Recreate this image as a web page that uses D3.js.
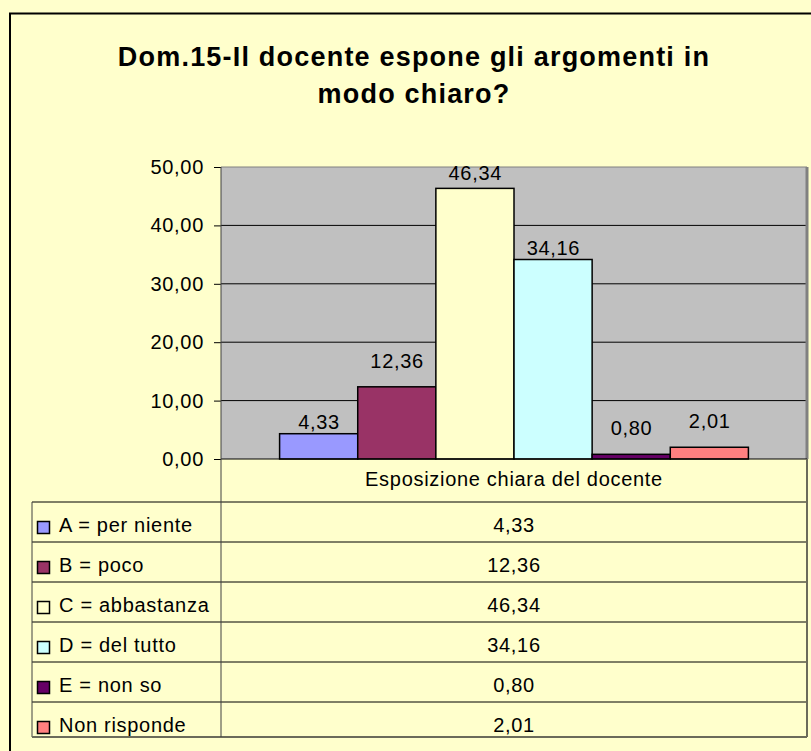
<!DOCTYPE html>
<html>
<head>
<meta charset="utf-8">
<script src="https://cdn.jsdelivr.net/npm/d3@7"></script>
<style>
  html, body { margin: 0; padding: 0; background: #ffffcc; }
  svg { display: block; font-family: 'Liberation Sans', Arial, sans-serif; }
</style>
</head>
<body>
<svg></svg>
<script>
// data
const categories = ['A = per niente', 'B = poco', 'C = abbastanza', 'D = del tutto', 'E = non so', 'Non risponde']
const values = [4.33, 12.36, 46.34, 34.16, 0.80, 2.01]
const yTicks = [0, 10, 20, 30, 40, 50]
const titleLines = ['Dom.15-Il docente espone gli argomenti in', 'modo chiaro?']
const seriesName = 'Esposizione chiara del docente'

// styles
const colors = ['#9999ff', '#993366', '#ffffcc', '#ccffff', '#660066', '#ff8080']
const labelLift = [5, 19, 8, 5, 19, 19]

const width = 811
const height = 751
const plot = { left: 221, right: 807, top: 167, bottom: 459 }
const table = { left: 32, top: 502, rowH: 40, bottom: 737 }
const spacing = 0.7

let svg = d3.select('svg')
    .attr('width', width)
    .attr('height', height)

const fmt = v => v.toFixed(2).replace('.', ',')

// outer frame
svg.append('rect')
    .attr('x', 10).attr('y', 13.5)
    .attr('width', width).attr('height', height)
    .attr('fill', '#ffffcc')
    .attr('stroke', '#000')
    .attr('stroke-width', 2)

// title
svg.append('text')
    .attr('text-anchor', 'middle')
    .attr('font-size', 27)
    .attr('font-weight', 'bold')
    .attr('letter-spacing', 1.2)
    .selectAll('tspan')
    .data(titleLines)
    .enter()
    .append('tspan')
    .attr('x', 414)
    .attr('y', (d, i) => 66 + i * 37)
    .text(d => d)

let xScale = d3.scaleBand()
    .domain(categories)
    .range([plot.left, plot.right])
    .paddingInner(0)
    .paddingOuter(0.75)

let yScale = d3.scaleLinear()
    .domain([0, 50])
    .range([plot.bottom, plot.top])

// plot background
svg.append('rect')
    .attr('x', plot.left).attr('y', plot.top)
    .attr('width', plot.right - plot.left)
    .attr('height', plot.bottom - plot.top)
    .attr('fill', '#c0c0c0')

// grid
svg.append('g')
    .selectAll('line')
    .data(yTicks.filter(t => t > 0 && t < 50))
    .enter()
    .append('line')
    .attr('x1', plot.left).attr('x2', plot.right)
    .attr('y1', d => yScale(d)).attr('y2', d => yScale(d))
    .attr('stroke', '#000')

// plot border top / right
svg.append('line')
    .attr('x1', plot.left).attr('x2', plot.right)
    .attr('y1', plot.top).attr('y2', plot.top)
    .attr('stroke', '#808080')
svg.append('line')
    .attr('x1', plot.right).attr('x2', plot.right)
    .attr('y1', plot.top).attr('y2', plot.bottom)
    .attr('stroke', '#808080')
    .attr('stroke-width', 3)

// bars
svg.append('g')
    .selectAll('rect')
    .data(values)
    .enter()
    .append('rect')
    .attr('x', (d, i) => xScale(categories[i]))
    .attr('y', d => yScale(d))
    .attr('width', xScale.bandwidth())
    .attr('height', d => plot.bottom - yScale(d))
    .attr('fill', (d, i) => colors[i])
    .attr('stroke', '#000')
    .attr('stroke-width', 1.5)

// value labels
svg.append('g')
    .selectAll('text')
    .data(values)
    .enter()
    .append('text')
    .attr('x', (d, i) => xScale(categories[i]) + xScale.bandwidth() / 2 + spacing / 2)
    .attr('y', (d, i) => yScale(d) - labelLift[i])
    .attr('text-anchor', 'middle')
    .attr('font-size', 20)
    .attr('letter-spacing', spacing)
    .attr('fill', '#000')
    .text(d => fmt(d))

// y axis
let yAxis = d3.axisLeft(yScale)
    .tickValues(yTicks)
    .tickSize(7)
    .tickFormat(d => fmt(d))

let yG = svg.append('g')
    .attr('transform', 'translate(' + plot.left + ',0)')
    .call(yAxis)
yG.select('.domain').remove()
yG.selectAll('.tick line').attr('stroke', '#000')
yG.selectAll('.tick text')
    .attr('font-size', 20)
    .attr('letter-spacing', spacing)
    .attr('font-family', "'Liberation Sans', Arial, sans-serif")
    .attr('fill', '#000')
    .attr('x', -17)

// x axis (zero line)
svg.append('line')
    .attr('x1', plot.left).attr('x2', plot.right)
    .attr('y1', plot.bottom).attr('y2', plot.bottom)
    .attr('stroke', '#000')

// data table
let rowScale = d3.scaleBand()
    .domain(categories)
    .range([table.top, table.top + table.rowH * categories.length])

const colMid = (plot.left + plot.right) / 2

svg.append('text')
    .attr('x', colMid).attr('y', 486)
    .attr('text-anchor', 'middle')
    .attr('font-size', 20)
    .attr('letter-spacing', spacing)
    .text(seriesName)

// row lines
svg.append('g')
    .selectAll('line')
    .data(categories)
    .enter()
    .append('line')
    .attr('x1', table.left).attr('x2', plot.right)
    .attr('y1', d => rowScale(d)).attr('y2', d => rowScale(d))
    .attr('stroke', '#000')

let rows = svg.append('g')
    .selectAll('g')
    .data(categories)
    .enter()
    .append('g')
    .attr('transform', d => 'translate(0,' + rowScale(d) + ')')

rows.append('rect')
    .attr('x', 37.5).attr('y', 19.5)
    .attr('width', 12).attr('height', 12)
    .attr('fill', (d, i) => colors[i])
    .attr('stroke', '#000')
    .attr('stroke-width', 1.5)

rows.append('text')
    .attr('x', 59).attr('y', 30)
    .attr('font-size', 20)
    .attr('letter-spacing', spacing)
    .text(d => d)

rows.append('text')
    .attr('x', colMid).attr('y', 30)
    .attr('text-anchor', 'middle')
    .attr('font-size', 20)
    .attr('letter-spacing', spacing)
    .text((d, i) => fmt(values[i]))

// table outer borders
svg.append('line')
    .attr('x1', table.left).attr('x2', table.left)
    .attr('y1', table.top).attr('y2', table.bottom)
    .attr('stroke', '#404040')
svg.append('line')
    .attr('x1', table.left).attr('x2', plot.right)
    .attr('y1', table.bottom).attr('y2', table.bottom)
    .attr('stroke', '#6b6b5a')
    .attr('stroke-width', 2)
svg.append('line')
    .attr('x1', plot.right).attr('x2', plot.right)
    .attr('y1', plot.bottom).attr('y2', table.bottom)
    .attr('stroke', '#6b6b5a')
    .attr('stroke-width', 2)

// value axis line continuing as the table divider
svg.append('line')
    .attr('x1', plot.left).attr('x2', plot.left)
    .attr('y1', plot.top).attr('y2', table.bottom)
    .attr('stroke', '#404040')
</script>
</body>
</html>
